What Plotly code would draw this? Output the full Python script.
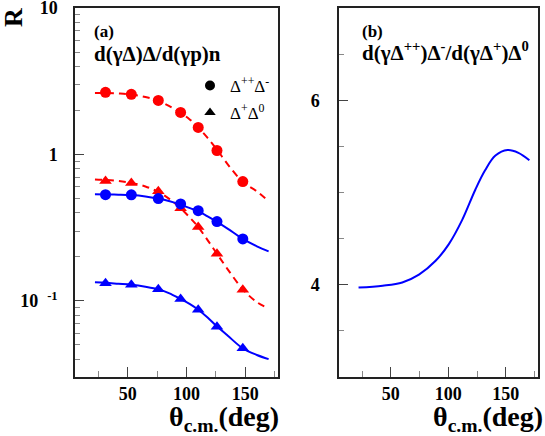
import plotly.graph_objects as go

# ---- data ----
theta_pts = [31, 53, 76, 95, 110, 126, 148]
red_circ = [2.66, 2.58, 2.34, 1.94, 1.53, 1.065, 0.653]
red_tri = [0.66, 0.64, 0.56, 0.43, 0.32, 0.21, 0.119]
blue_circ = [0.532, 0.53, 0.50, 0.46, 0.413, 0.348, 0.265]
blue_tri = [0.132, 0.129, 0.12, 0.103, 0.087, 0.0667, 0.0474]

theta_curve = [22, 31, 42, 53, 65, 76, 85, 95, 103, 110, 118, 126, 135, 148, 160, 170]
red_circ_curve = [2.63, 2.63, 2.61, 2.57, 2.47, 2.33, 2.15, 1.93, 1.73, 1.53, 1.30, 1.08, 0.86, 0.65, 0.56, 0.48]
red_tri_curve = [0.675, 0.67, 0.66, 0.64, 0.605, 0.555, 0.50, 0.43, 0.37, 0.32, 0.26, 0.21, 0.165, 0.12, 0.098, 0.089]
blue_circ_curve = [0.535, 0.534, 0.532, 0.528, 0.517, 0.50, 0.482, 0.455, 0.43, 0.41, 0.378, 0.347, 0.312, 0.265, 0.236, 0.218]
blue_tri_curve = [0.134, 0.133, 0.131, 0.129, 0.125, 0.12, 0.113, 0.103, 0.095, 0.087, 0.077, 0.067, 0.058, 0.0474, 0.0427, 0.040]

theta_b = [22, 43, 60, 74.5, 89, 100.5, 112, 123.5, 132, 141, 151.5, 161, 170.5]
ratio_b = [3.97, 3.99, 4.025, 4.11, 4.26, 4.44, 4.70, 5.03, 5.24, 5.40, 5.46, 5.43, 5.35]

ytick_vals_a = [0.1, 1, 10]
ytick_text_a = ["10  <sup>-1</sup>", "1", "10"]
ytick_vals_b = [4, 6]
xtick_vals = [50, 100, 150]

RED = "#ff0000"
BLUE = "#0000ff"
SERIF = "Liberation Serif"

W, H = 545, 436
# plot area in pixels
L, R, T, B = 75, 538, 8, 377
PW, PH = R - L, B - T
def px_x(p): return (p - L) / PW
def px_y(p): return (B - p) / PH

fig = go.Figure()

# panel (a) curves
fig.add_trace(go.Scatter(x=theta_curve, y=red_circ_curve, mode="lines", line=dict(color=RED, width=2, dash="7px,5px", shape="spline"), showlegend=False, xaxis="x", yaxis="y"))
fig.add_trace(go.Scatter(x=theta_curve, y=red_tri_curve, mode="lines", line=dict(color=RED, width=2, dash="7px,5px", shape="spline"), showlegend=False, xaxis="x", yaxis="y"))
fig.add_trace(go.Scatter(x=theta_curve, y=blue_circ_curve, mode="lines", line=dict(color=BLUE, width=2, shape="spline"), showlegend=False, xaxis="x", yaxis="y"))
fig.add_trace(go.Scatter(x=theta_curve, y=blue_tri_curve, mode="lines", line=dict(color=BLUE, width=2, shape="spline"), showlegend=False, xaxis="x", yaxis="y"))

# panel (a) points
fig.add_trace(go.Scatter(x=theta_pts, y=red_circ, mode="markers", marker=dict(color=RED, size=11, symbol="circle"), showlegend=False, xaxis="x", yaxis="y"))
fig.add_trace(go.Scatter(x=theta_pts, y=red_tri, mode="markers", marker=dict(color=RED, size=11, symbol="triangle-up"), showlegend=False, xaxis="x", yaxis="y"))
fig.add_trace(go.Scatter(x=theta_pts, y=blue_circ, mode="markers", marker=dict(color=BLUE, size=11, symbol="circle"), showlegend=False, xaxis="x", yaxis="y"))
fig.add_trace(go.Scatter(x=theta_pts, y=blue_tri, mode="markers", marker=dict(color=BLUE, size=11, symbol="triangle-up"), showlegend=False, xaxis="x", yaxis="y"))

# legend entries (black symbols)
fig.add_trace(go.Scatter(x=[None], y=[None], mode="markers", marker=dict(color="black", size=10, symbol="circle"),
                         name="Δ<sup>++</sup>Δ<sup>-</sup>", showlegend=True, legend="legend", xaxis="x", yaxis="y"))
fig.add_trace(go.Scatter(x=[None], y=[None], mode="markers", marker=dict(color="black", size=10, symbol="triangle-up"),
                         name="Δ<sup>+</sup>Δ<sup>0</sup>", showlegend=True, legend="legend2", xaxis="x", yaxis="y"))

# panel (b)
fig.add_trace(go.Scatter(x=theta_b, y=ratio_b, mode="lines", line=dict(color=BLUE, width=2, shape="spline"), showlegend=False, xaxis="x2", yaxis="y2"))

tickfont = dict(family=SERIF, size=18, color="black", weight="bold")
common_x = dict(range=[5, 178], tickvals=xtick_vals, ticks="inside", ticklen=10, tickwidth=1, tickcolor="#444",
                showline=True, linecolor="#222", linewidth=1.5, mirror=True, showgrid=False, zeroline=False,
                tickfont=tickfont, ticklabelstandoff=0, automargin=False, ticklabeloverflow="allow",
                minor=dict(tickvals=[25, 75, 125, 175], ticks="inside", ticklen=6, tickcolor="#888", showgrid=False))

fig.update_layout(
    template="none",
    width=W, height=H,
    margin=dict(l=L, r=W - R, t=T, b=H - B, autoexpand=False),
    paper_bgcolor="white", plot_bgcolor="white",
    xaxis=dict(domain=[0, px_x(278)], anchor="y", **common_x),
    xaxis2=dict(domain=[px_x(339), 1], anchor="y2", **common_x),
    yaxis=dict(domain=[0, 1], anchor="x", type="log", range=[-1.52, 1.001], automargin=False,
               tickvals=ytick_vals_a, ticktext=ytick_text_a, ticks="inside", ticklen=9, tickcolor="#444",
               showline=True, linecolor="#222", linewidth=1.5, mirror=True, showgrid=False, zeroline=False,
               tickfont=tickfont, ticklabelstandoff=12, ticklabeloverflow="allow",
               minor=dict(dtick="D1", ticks="inside", ticklen=5, tickcolor="#888", showgrid=False)),
    yaxis2=dict(domain=[0, 1], anchor="x2", range=[3, 7], automargin=False,
                tickvals=ytick_vals_b, ticks="inside", ticklen=9, tickcolor="#444",
                showline=True, linecolor="#222", linewidth=1.5, mirror=True, showgrid=False, zeroline=False,
                tickfont=tickfont, ticklabelstandoff=14, ticklabeloverflow="allow",
                minor=dict(dtick=0.5, ticks="inside", ticklen=5, tickcolor="#888", showgrid=False)),
    legend=dict(x=px_x(190), y=px_y(86), xanchor="left", yanchor="middle", bgcolor="rgba(0,0,0,0)",
                font=dict(family=SERIF, size=17, color="black"), itemwidth=30),
    legend2=dict(x=px_x(190), y=px_y(113), xanchor="left", yanchor="middle", bgcolor="rgba(0,0,0,0)",
                 font=dict(family=SERIF, size=17, color="black"), itemwidth=30),
)

bold = dict(family=SERIF, color="black", weight="bold")
annots = [
    dict(text="R", x=px_x(13), y=px_y(17), xref="paper", yref="paper", textangle=-90, showarrow=False,
         xanchor="center", yanchor="middle", borderpad=0, font=dict(size=26, **bold)),
    dict(text="(a)", x=px_x(92), y=px_y(31), xref="paper", yref="paper", xanchor="left", yanchor="middle",
         showarrow=False, font=dict(size=17, **bold)),
    dict(text="d(γΔ)Δ/d(γp)n", x=px_x(92), y=px_y(54), xref="paper", yref="paper", xanchor="left",
         yanchor="middle", showarrow=False, font=dict(size=21, **bold)),
    dict(text="(b)", x=px_x(360), y=px_y(31), xref="paper", yref="paper", xanchor="left", yanchor="middle",
         showarrow=False, font=dict(size=17, **bold)),
    dict(text="d(γΔ<sup>++</sup>)Δ<sup>-</sup>/d(γΔ<sup>+</sup>)Δ<sup>0</sup>", x=px_x(360), y=px_y(52),
         xref="paper", yref="paper", xanchor="left", yanchor="middle", showarrow=False, font=dict(size=21, **bold)),
    dict(text="θ<sub>c.m.</sub>(deg)", x=px_x(280), y=px_y(437), xref="paper", yref="paper", xanchor="right",
         yanchor="bottom", borderpad=0, showarrow=False, font=dict(size=28, **bold)),
    dict(text="θ<sub>c.m.</sub>(deg)", x=px_x(544), y=px_y(437), xref="paper", yref="paper", xanchor="right",
         yanchor="bottom", borderpad=0, showarrow=False, font=dict(size=28, **bold)),
]
fig.update_layout(annotations=annots)

fig.write_html("out.html", config={"displayModeBar": False},
               post_script="document.body.style.margin='0px';")
